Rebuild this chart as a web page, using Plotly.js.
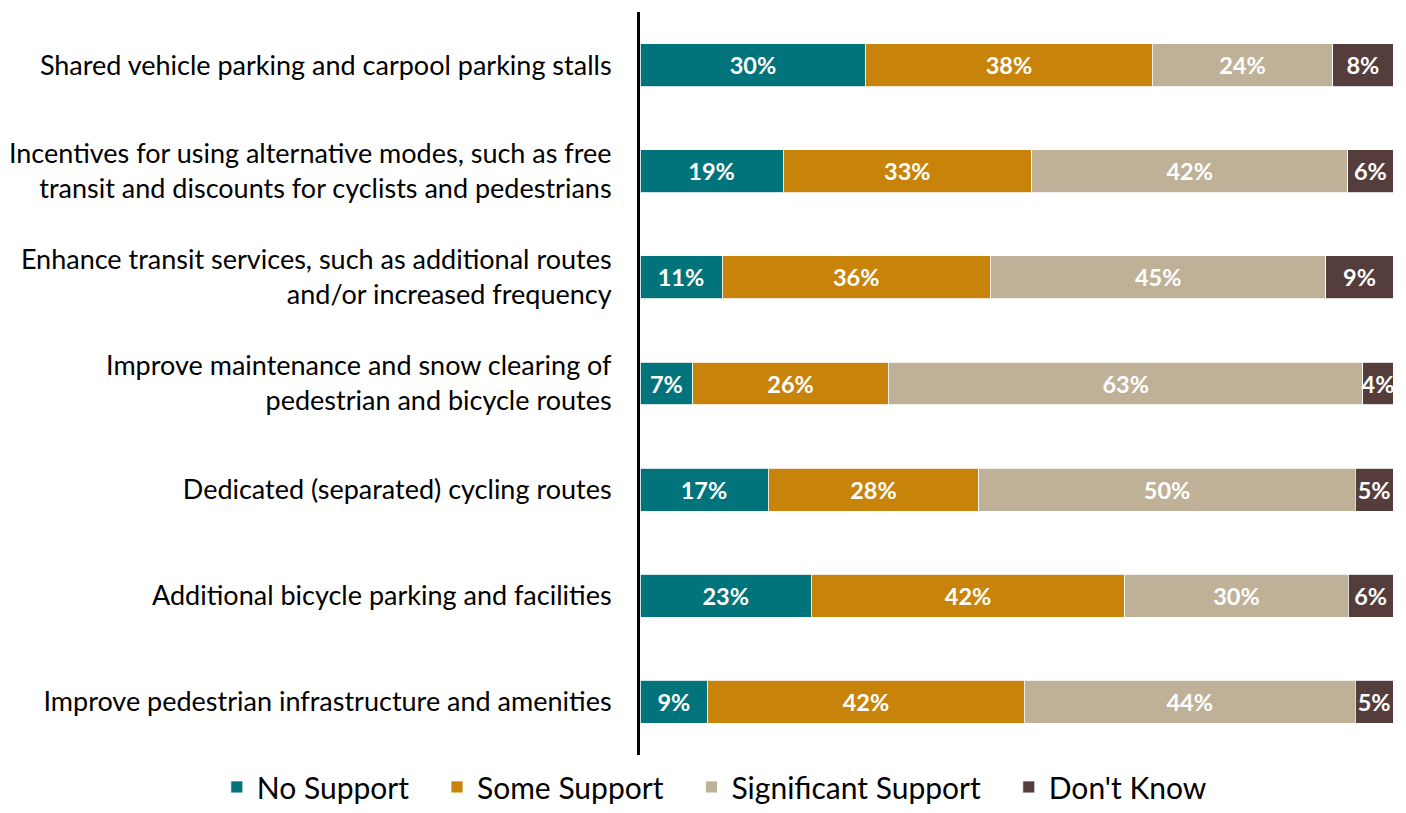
<!DOCTYPE html>
<html>
<head>
<meta charset="utf-8">
<script src="https://cdn.plot.ly/plotly-3.0.1.min.js"></script>
<style>html,body{margin:0;padding:0;background:#fff;}#chart{width:1406px;height:813px;}</style>
</head>
<body>
<div id="chart"></div>
<script>
const categories = [
  "Shared vehicle parking and carpool parking stalls",
  "Incentives for using alternative modes, such as free<br>transit and discounts for cyclists and pedestrians",
  "Enhance transit services, such as additional routes<br>and/or increased frequency",
  "Improve maintenance and snow clearing of<br>pedestrian and bicycle routes",
  "Dedicated (separated) cycling routes",
  "Additional bicycle parking and facilities",
  "Improve pedestrian infrastructure and amenities"
];
const noSupport = [30, 19, 11, 7, 17, 23, 9];
const someSupport = [38, 33, 36, 26, 28, 42, 42];
const significantSupport = [24, 42, 45, 63, 50, 30, 44];
const dontKnow = [8, 6, 9, 4, 5, 6, 5];
const seriesNames = ["No Support", "Some Support", "Significant Support", "Don't Know"];
const seriesColors = ["#00747A", "#C8840A", "#BFB197", "#553D3C"];
const seriesValues = [noSupport, someSupport, significantSupport, dontKnow];

const pad = "\u00a0\u00a0\u00a0";
const traces = seriesValues.map((vals, i) => ({
  type: "bar",
  orientation: "h",
  name: seriesNames[i] + (i < seriesNames.length - 1 ? pad : ""),
  y: categories,
  x: vals,
  text: vals.map(v => v + "%"),
  textposition: "inside",
  insidetextanchor: "middle",
  textangle: 0,
  constraintext: "none",
  textfont: {family: "Lato, sans-serif", size: 23.5, color: "#ffffff", weight: "bold"},
  marker: {color: seriesColors[i], line: {color: "#ffffff", width: 0.8}},
  hoverinfo: "skip"
}));

const layout = {
  width: 1406,
  height: 813,
  barmode: "stack",
  barnorm: "percent",
  bargap: 0.595,
  paper_bgcolor: "#ffffff",
  plot_bgcolor: "#ffffff",
  margin: {l: 640, r: 13, t: 12, b: 58, autoexpand: false},
  font: {family: "Lato, sans-serif", color: "#000000"},
  showlegend: true,
  legend: {
    orientation: "h",
    x: -0.562,
    xanchor: "left",
    y: -0.008,
    yanchor: "top",
    font: {size: 30, color: "#000000"},
    traceorder: "normal"
  },
  xaxis: {
    range: [0, 100],
    showgrid: false,
    zeroline: false,
    showticklabels: false,
    showline: false,
    fixedrange: true
  },
  yaxis: {
    autorange: "reversed",
    showgrid: false,
    zeroline: false,
    showline: true,
    linecolor: "#000000",
    linewidth: 3,
    ticks: "",
    ticklabelstandoff: 20,
    tickfont: {size: 27, color: "#000000"},
    fixedrange: true
  }
};

Plotly.newPlot("chart", traces, layout, {displayModeBar: false, staticPlot: true});
</script>
</body>
</html>
